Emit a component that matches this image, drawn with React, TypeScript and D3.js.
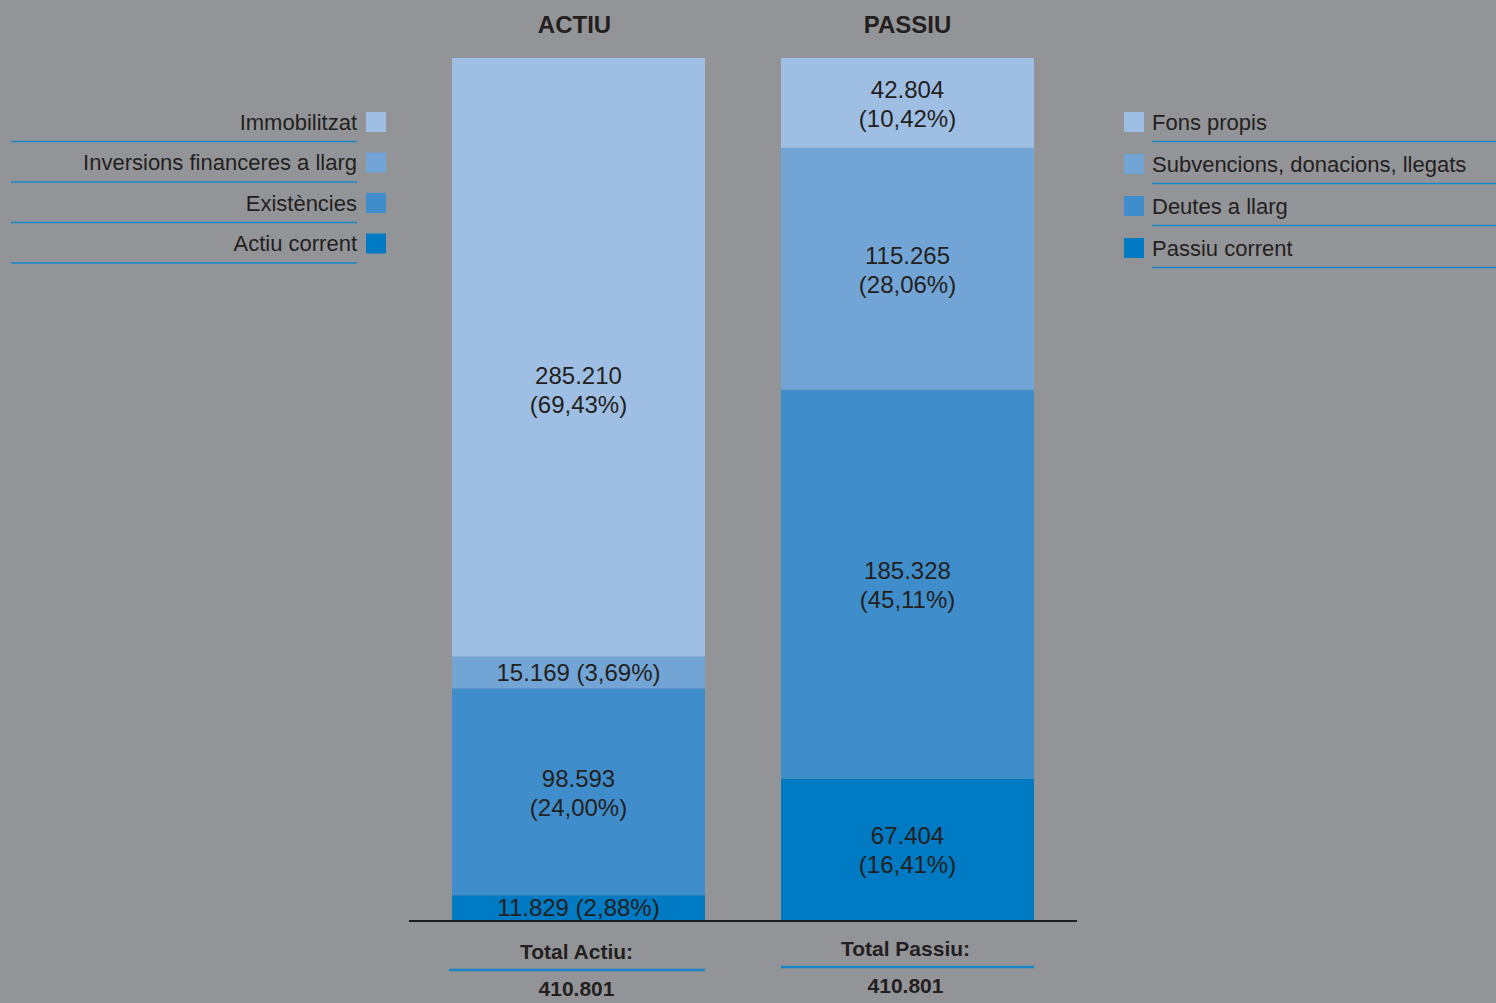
import { useEffect } from 'react';
import * as d3 from 'd3';

const sides = ['ACTIU', 'PASSIU'];

const actiuCats = ['Immobilitzat', 'Inversions financeres a llarg', 'Existències', 'Actiu corrent'];
const actiuValues = [285210, 15169, 98593, 11829];
const actiuPct = ['69,43', '3,69', '24,00', '2,88'];

const passiuCats = ['Fons propis', 'Subvencions, donacions, llegats', 'Deutes a llarg', 'Passiu corrent'];
const passiuValues = [42804, 115265, 185328, 67404];
const passiuPct = ['10,42', '28,06', '45,11', '16,41'];

const totalLabels = ['Total Actiu:', 'Total Passiu:'];
const totalValue = 410801;

const colors = ['#9fbee3', '#72a5d5', '#3f8dcb', '#007ac2'];

const W = 1496;
const H = 1003;
const BG = '#939497';
const INK = '#231f20';
const LINE_BLUE = '#1a86c8';
const FONT = '"Liberation Sans", Arial, Helvetica, sans-serif';

const locale = d3.formatLocale({ decimal: ',', thousands: '.', grouping: [3], currency: ['', ''] });
const fmt = locale.format(',');

export default function App() {
  useEffect(() => {
    document.body.style.margin = '0';
  }, []);

  const baseY = 920;
  const y = d3.scaleLinear().domain([0, totalValue]).range([baseY, 58]);
  const x = d3.scaleBand<string>().domain(sides).range([452, 1034]).paddingInner(0.231);

  const stacks = [
    { cats: actiuCats, values: actiuValues, pct: actiuPct },
    { cats: passiuCats, values: passiuValues, pct: passiuPct },
  ];

  return (
    <svg width={W} height={H} style={{ display: 'block' }} fontFamily={FONT}>
      <rect width={W} height={H} fill={BG} />

      {sides.map((side, si) => {
        const bx = x(side)!;
        const bw = x.bandwidth();
        const cx = bx + bw / 2;
        const { values, pct } = stacks[si];
        // stack from the bottom: last item sits on the baseline
        const n = values.length;
        const segs: { i: number; top: number; bottom: number }[] = [];
        let acc = 0;
        for (let k = n - 1; k >= 0; k--) {
          const b = acc;
          acc += values[k];
          segs.push({ i: k, top: y(acc), bottom: y(b) });
        }
        return (
          <g key={side}>
            <text x={cx - 4 * (1 - si)} y={24} textAnchor="middle" dominantBaseline="central"
              fontSize={24} fontWeight="bold" fill={INK}>{side}</text>
            {segs.map(s => (
              <rect key={s.i} x={bx} y={s.top} width={bw} height={s.bottom - s.top} fill={colors[s.i]} />
            ))}
            {segs.map(s => {
              const h = s.bottom - s.top;
              // the big block's label sits a bit below its middle in the original
              const my = (s.top + s.bottom) / 2 + (h > 500 ? 32 : 0);
              const v = fmt(values[s.i]);
              const p = `(${pct[s.i]}%)`;
              if (h < 50) {
                return (
                  <text key={s.i} x={cx} y={my} textAnchor="middle" dominantBaseline="central"
                    fontSize={24} fill={INK}>{`${v} ${p}`}</text>
                );
              }
              return (
                <text key={s.i} x={cx} y={my - 14} textAnchor="middle" dominantBaseline="central"
                  fontSize={24} fill={INK}>
                  <tspan x={cx}>{v}</tspan>
                  <tspan x={cx} dy={29}>{p}</tspan>
                </text>
              );
            })}
          </g>
        );
      })}

      <line x1={409} x2={1077} y1={921} y2={921} stroke="#1d1d1d" strokeWidth={2} />

      {sides.map((side, si) => {
        const bx = x(side)!;
        const bw = x.bandwidth();
        const cx = bx + bw / 2;
        const off = si === 0 ? 0 : -3;
        return (
          <g key={`tot-${side}`} fontWeight="bold" fill={INK}>
            <text x={cx - 2} y={951 + off} textAnchor="middle" dominantBaseline="central" fontSize={21}>
              {totalLabels[si]}
            </text>
            <line x1={si === 0 ? bx - 3 : bx} x2={bx + bw} y1={970 + off} y2={970 + off}
              stroke={LINE_BLUE} strokeWidth={2.5} />
            <text x={cx - 2} y={988 + off} textAnchor="middle" dominantBaseline="central" fontSize={21}>
              {fmt(totalValue)}
            </text>
          </g>
        );
      })}

      {/* left legend */}
      {actiuCats.map((c, i) => {
        const ry = 122 + i * 40.5;
        return (
          <g key={c}>
            <text x={357} y={ry} textAnchor="end" dominantBaseline="central" fontSize={22} fill={INK}>{c}</text>
            <rect x={366} y={ry - 10} width={20} height={20} fill={colors[i]} />
            <line x1={11} x2={357} y1={ry + 19.5} y2={ry + 19.5} stroke={LINE_BLUE} strokeWidth={1.5} />
          </g>
        );
      })}

      {/* right legend */}
      {passiuCats.map((c, i) => {
        const ry = 122 + i * 42;
        return (
          <g key={c}>
            <rect x={1124} y={ry - 10} width={20} height={20} fill={colors[i]} />
            <text x={1152} y={ry} dominantBaseline="central" fontSize={22} fill={INK}>{c}</text>
            <line x1={1152} x2={W} y1={ry + 19.5} y2={ry + 19.5} stroke={LINE_BLUE} strokeWidth={1.5} />
          </g>
        );
      })}
    </svg>
  );
}
